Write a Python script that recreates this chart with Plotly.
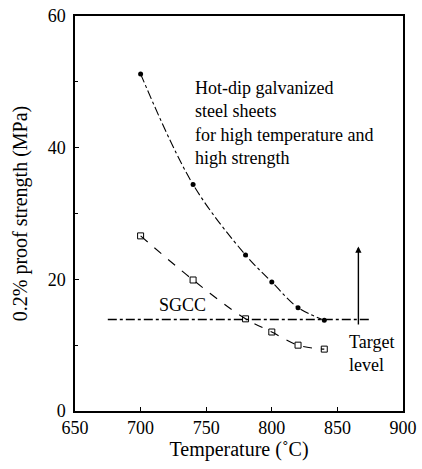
import plotly.graph_objects as go

temps = [700, 740, 780, 800, 820, 840]
high_strength = [51.2, 34.4, 23.7, 19.6, 15.7, 13.8]
sgcc_like = [26.6, 19.9, 14.0, 12.0, 10.0, 9.4]
target_x = [675, 875]
target_y = [13.9, 13.9]
arrow_x = 866
arrow_y = [12.9, 25.0]
x_ticks = [650, 700, 750, 800, 850, 900]
y_ticks = [0, 20, 40, 60]

FONT = "Liberation Serif"

fig = go.Figure()
fig.add_trace(go.Scatter(x=temps, y=high_strength, mode="lines+markers",
                         line=dict(color="black", width=1.1, dash="dashdot", shape="spline"),
                         marker=dict(symbol="circle", size=5, color="black"),
                         showlegend=False))
fig.add_trace(go.Scatter(x=temps, y=sgcc_like, mode="lines+markers",
                         line=dict(color="black", width=1.1, dash="dash", shape="spline"),
                         marker=dict(symbol="square-open", size=6, color="black", line=dict(width=1)),
                         showlegend=False))
fig.add_trace(go.Scatter(x=target_x, y=target_y, mode="lines",
                         line=dict(color="black", width=1.3, dash="dashdot"),
                         showlegend=False))
fig.add_annotation(x=arrow_x, y=arrow_y[1], ax=arrow_x, ay=arrow_y[0],
                   xref="x", yref="y", axref="x", ayref="y", text="",
                   showarrow=True, arrowhead=2, arrowsize=0.9, arrowwidth=1.4, arrowcolor="black")

fig.add_annotation(x=740, y=43.7, xref="x", yref="y", xanchor="left", yanchor="middle", align="left",
                   text="Hot-dip galvanized<br>steel sheets<br>for high temperature and<br>high strength",
                   showarrow=False, font=dict(family=FONT, size=18, color="black"))
fig.add_annotation(x=732, y=16.1, xref="x", yref="y", text="SGCC", showarrow=False,
                   font=dict(family=FONT, size=18, color="black"))
fig.add_annotation(x=857, y=8.7, xref="x", yref="y", xanchor="left", yanchor="middle", align="left",
                   text="Target<br>level", showarrow=False,
                   font=dict(family=FONT, size=18, color="black"))

fig.update_xaxes(range=[650, 900], tickvals=x_ticks, automargin=False, ticklabeloverflow="allow",
                 ticks="inside", ticklen=4, tickcolor="black", showgrid=False, zeroline=False,
                 showline=True, linecolor="black", linewidth=1.5, mirror=True,
                 tickfont=dict(family=FONT, size=18, color="black"),
                 title=dict(text="Temperature (˚C)", font=dict(family=FONT, size=20, color="black"), standoff=3))
fig.update_yaxes(range=[0, 60], tickvals=y_ticks, automargin=False, ticklabeloverflow="allow",
                 ticks="inside", ticklen=4, tickcolor="black", showgrid=False, zeroline=False,
                 showline=True, linecolor="black", linewidth=1.5, mirror=True,
                 minor=dict(tickvals=[10, 30, 50], ticks="inside", ticklen=3, tickcolor="black"),
                 ticklabelstandoff=4,
                 tickfont=dict(family=FONT, size=18, color="black"),
                 title=dict(text="0.2% proof strength (MPa)", font=dict(family=FONT, size=20, color="black"), standoff=15))
fig.update_layout(width=422, height=469, margin=dict(l=75, r=19, t=16, b=58),
                  plot_bgcolor="white", paper_bgcolor="white")
# remove the browser's default 8px body margin so the figure fills the window exactly
fig.write_html("out.html", config={"displayModeBar": False},
               post_script="document.body.style.margin='0px';")
